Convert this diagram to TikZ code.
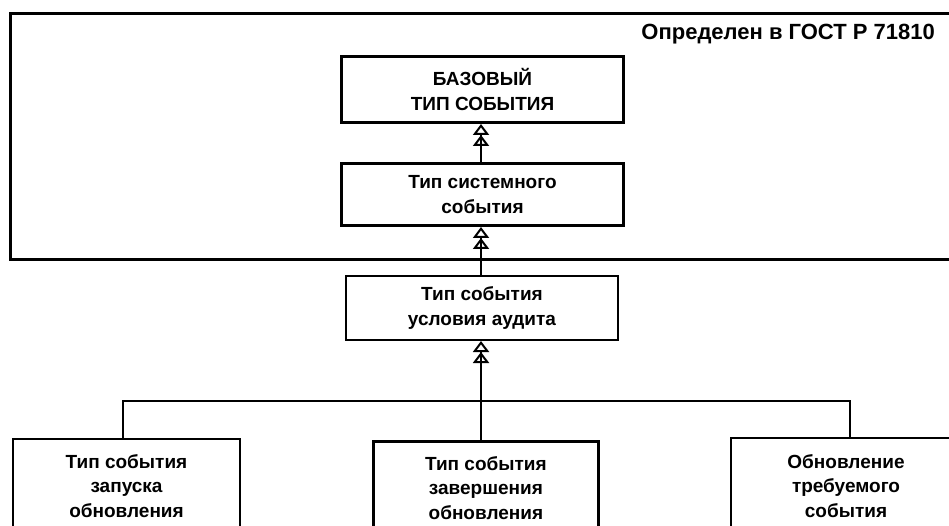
\documentclass[tikz,border=0pt]{standalone}
\usepackage{fontspec}
\setmainfont{Liberation Sans}
\usetikzlibrary{arrows.meta,calc}
\begin{document}
\begin{tikzpicture}[x=1pt,y=-1pt,
  box/.style={draw, rectangle, inner sep=0pt, anchor=north west,
    font=\bfseries\fontsize{19}{25}\selectfont, align=center},
  lbl/.style={inner sep=0pt, anchor=north,
    font=\bfseries\fontsize{19}{24.5}\selectfont, align=center},
  gen/.style={line width=2pt,
    -{Triangle[open,length=11pt,width=16pt,sep=0pt] Triangle[open,length=11pt,width=16pt]}},
  conn/.style={line width=2pt}
]
\useasboundingbox (0,0) rectangle (949,526);
\clip (0,0) rectangle (949,526);

% package frame
\node[draw, line width=3pt, rectangle, inner sep=0pt, anchor=north west,
  minimum width=955pt, minimum height=246pt] (frame) at (9,12) {};
\node[anchor=base east, inner sep=0pt, font=\bfseries\fontsize{22}{26}\selectfont]
  (hdr) at (935,40) {Определен в ГОСТ Р 71810};

% upper boxes
\node[box, line width=3pt, minimum width=282pt, minimum height=66pt] (base) at (340,55)
  {БАЗОВЫЙ\\ТИП СОБЫТИЯ};
\node[box, line width=3pt, minimum width=282pt, minimum height=62pt] (sys) at (340,162)
  {Тип системного\\события};
\node[box, line width=2pt, minimum width=272pt, minimum height=64pt] (aud) at (345,275)
  {Тип события\\условия аудита};

% lower boxes (cut by the picture edge)
\node[box, line width=2pt, minimum width=227pt, minimum height=150pt] (bl) at (12,438) {};
\node[box, line width=2.8pt, minimum width=225pt, minimum height=150pt] (bm) at (372,440) {};
\node[box, line width=2pt, minimum width=230pt, minimum height=150pt] (br) at (730,437) {};

\node[lbl] (tl) at ($(bl.north)+(0,16)$) {Тип события\\запуска\\обновления};
\node[lbl] (tm) at ($(bm.north)+(0,16)$) {Тип события\\завершения\\обновления};
\node[lbl] (tr) at ($(br.north)+(0,17)$) {Обновление\\требуемого\\события};

% connectors
\coordinate (jn) at (481,401);
\coordinate (jl) at (123,401);
\coordinate (jr) at (850,401);

\draw[gen] (sys.north -| jn) -- (base.south -| jn);
\draw[gen] (aud.north -| jn) -- (sys.south -| jn);
\draw[gen] (jn) -- (aud.south -| jn);
\draw[conn] (jl |- bl.north) -- (jl) -- (jr) -- (jr |- br.north);
\draw[conn] (jn) -- (jn |- bm.north);
\end{tikzpicture}
\end{document}
